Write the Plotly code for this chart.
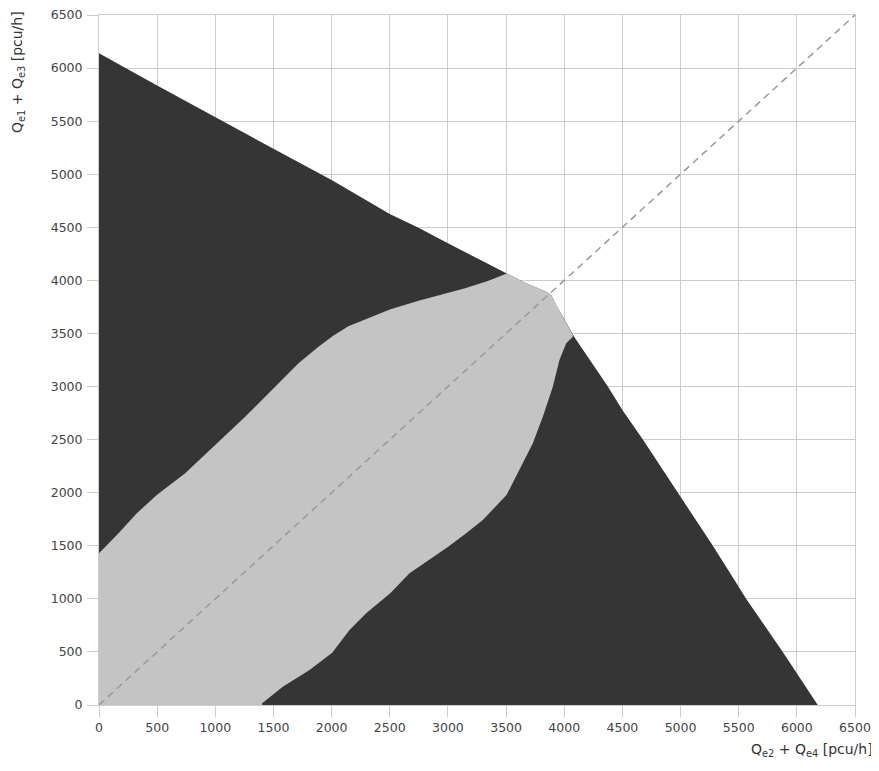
import plotly.graph_objects as go

# Outer boundary of the capacity region (dark area), upper-left branch
outer_upper_x = [0, 500, 1000, 1500, 2000, 2500, 2756, 3000, 3506]
outer_upper_y = [6140, 5835, 5535, 5240, 4945, 4625, 4490, 4349, 4066]

# Rounded corner where the light area reaches the outer edge
cap_x = [3644, 3845, 3888, 3931, 4002, 4074]
cap_y = [3988, 3894, 3862, 3768, 3627, 3485]

# Outer boundary, lower-right branch
outer_right_x = [4088, 4375, 4500, 4676, 5000, 5278, 5500, 5564, 5879, 6180]
outer_right_y = [3464, 3000, 2779, 2500, 1962, 1500, 1114, 1000, 500, 0]

# Light band, upper edge (left to right)
band_upper_x = [0, 168, 325, 497, 741, 999, 1257, 1487, 1715, 1887, 2010, 2144,
                2288, 2506, 2747, 2999, 3148, 3349, 3506]
band_upper_y = [1429, 1617, 1806, 1978, 2182, 2449, 2716, 2967, 3219, 3375, 3476,
                3568, 3633, 3727, 3809, 3884, 3925, 3997, 4066]

# Light band, lower edge (top to bottom)
band_lower_x = [4074, 4017, 3959, 3902, 3816, 3730, 3587, 3504, 3300, 3157, 3002,
                2842, 2670, 2504, 2297, 2154, 2005, 1810, 1580, 1403, 1403]
band_lower_y = [3469, 3407, 3250, 2998, 2716, 2465, 2151, 1978, 1743, 1617, 1491,
                1366, 1240, 1052, 864, 706, 493, 330, 173, 16, 0]

diag_x = [0, 6500]
diag_y = [0, 6500]

tick_vals = list(range(0, 6501, 500))
tick_text = [str(v) for v in tick_vals]

DARK = "#353535"
LIGHT = "#c4c4c4"
GRID = "#cccccc"
FONT = "DejaVu Sans, Arial, sans-serif"

dark_x = [0] + outer_upper_x + cap_x + outer_right_x + [0]
dark_y = [0] + outer_upper_y + cap_y + outer_right_y + [0]

light_x = [0] + band_upper_x + cap_x + band_lower_x + [0]
light_y = [0] + band_upper_y + cap_y + band_lower_y + [0]

fig = go.Figure()
fig.add_trace(go.Scatter(x=dark_x, y=dark_y, fill="toself", fillcolor=DARK,
                         mode="lines", line=dict(width=0, color=DARK),
                         hoverinfo="skip", showlegend=False))
fig.add_trace(go.Scatter(x=light_x, y=light_y, fill="toself", fillcolor=LIGHT,
                         mode="lines", line=dict(width=0, color=LIGHT),
                         hoverinfo="skip", showlegend=False))
fig.add_trace(go.Scatter(x=diag_x, y=diag_y, mode="lines",
                         line=dict(color="#999999", width=1.5, dash="7px,5px"),
                         hoverinfo="skip", showlegend=False))

axis_common = dict(
    range=[0, 6500], tickmode="array", tickvals=tick_vals, ticktext=tick_text,
    showgrid=True, gridcolor=GRID, gridwidth=1, zeroline=False,
    showline=True, linecolor=GRID, linewidth=1, mirror=True,
    ticks="outside", ticklen=11, tickcolor=GRID, tickwidth=1,
    tickfont=dict(family=FONT, size=12.5, color="#444444"),
    ticklabeloverflow="allow",
    layer="above traces", fixedrange=True, automargin=False,
)

# The page body has an 8px margin, so the figure is sized/offset accordingly.
L, R, T, B = 91, 24, 7, 66
W, H = 871, 763
PW, PH = W - L - R, H - T - B

fig.update_layout(
    width=W, height=H,
    margin=dict(l=L, r=R, t=T, b=B, autoexpand=False),
    plot_bgcolor="white", paper_bgcolor="white",
    xaxis=dict(**axis_common),
    yaxis=dict(**axis_common, ticklabelstandoff=2),
    annotations=[
        dict(text="Q<sub>e1</sub> + Q<sub>e3</sub> [pcu/h]", textangle=-90,
             xref="paper", yref="paper", x=(10 - L) / PW, y=(H - B - 1) / PH,
             xanchor="center", yanchor="top", showarrow=False,
             font=dict(family=FONT, size=14, color="#333333")),
        dict(text="Q<sub>e2</sub> + Q<sub>e4</sub> [pcu/h]",
             xref="paper", yref="paper", x=(867 - L) / PW, y=-(742 - (H - B)) / PH,
             xanchor="right", yanchor="middle", showarrow=False,
             font=dict(family=FONT, size=14, color="#333333")),
    ],
)

fig.write_html("out.html")
